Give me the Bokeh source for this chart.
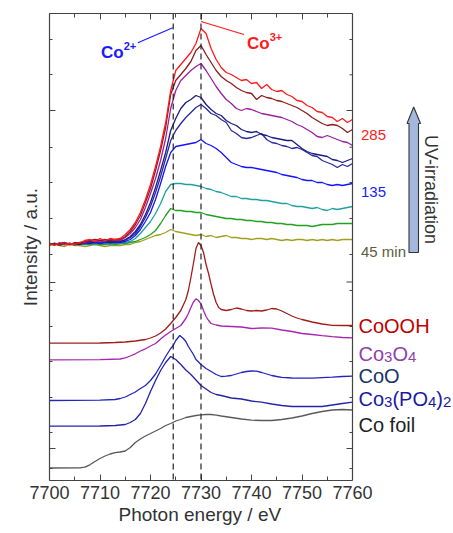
import math
from bokeh.plotting import figure
from bokeh.models import Range1d, LinearAxis, FixedTicker, CustomJSTickFormatter, Span, Title
from bokeh.embed import file_html
from bokeh.resources import INLINE
from bokeh.core.properties import value

FONT = "Liberation Sans"
AXIS_COLOR = "#444444"

# ---------------- data ----------------
energy_uv = list(range(7700, 7761))

uv_red = [237, 235, 238, 236, 237, 236, 238, 240, 241, 239, 242, 240, 242, 241,
          242, 246, 251, 258, 268, 281, 296, 314, 334, 358, 390, 410,
          416, 422, 428, 437, 452, 447, 432, 421, 413, 408,
          406, 403, 400, 401, 397, 398, 392, 396, 391, 389, 390, 386, 384, 380, 379, 375, 373,
          369, 368, 364, 363, 359, 362, 358, 361]
uv_brown = [236, 237, 235, 237, 236, 238, 237, 239, 240, 241, 240, 241, 240, 241,
            241, 244, 249, 256, 265, 278, 292, 310, 330, 353, 386, 400,
            406, 412, 419, 430, 435, 426, 418, 410, 404, 400,
            397, 393, 390, 388, 387, 381, 385, 383, 382, 380, 379, 377, 375, 373, 370, 367, 363,
            360, 357, 355, 356, 355, 352, 348, 351]
uv_purple = [236, 237, 236, 238, 236, 237, 238, 238, 240, 239, 240, 239, 241, 240,
             240, 243, 247, 253, 261, 273, 287, 302, 320, 342, 372, 390,
             400, 405, 410, 414, 417, 410, 402, 394, 387, 381,
             377, 372, 370, 372, 371, 369, 367, 366, 365, 364, 363, 361, 359, 356, 354, 351, 348,
             344, 343, 345, 343, 341, 339, 338, 335]
uv_navy1 = [237, 236, 237, 238, 236, 237, 236, 238, 239, 238, 240, 239, 238, 239,
            239, 241, 244, 249, 256, 266, 278, 293, 310, 328, 350, 362,
            372, 378, 381, 385, 383, 376, 371, 367, 365, 360,
            357, 355, 351, 349, 348, 349, 346, 345, 343, 342, 341, 340, 340, 336, 332, 329, 327,
            326, 325, 324, 321, 320, 318, 320, 322]
uv_navy2 = [236, 237, 236, 237, 237, 236, 237, 237, 238, 239, 238, 239, 239, 238,
            239, 240, 243, 247, 254, 263, 274, 288, 304, 322, 340, 350,
            357, 363, 368, 373, 376, 372, 367, 365, 361, 358,
            350, 347, 343, 342, 343, 345, 347, 341, 338, 337, 335, 334, 332, 333, 331, 328, 325,
            324, 320, 318, 316, 313, 316, 314, 317]
uv_blue = [237, 236, 237, 236, 237, 236, 237, 237, 237, 238, 237, 238, 238, 238,
           238, 239, 241, 245, 251, 259, 268, 281, 297, 314, 328, 334,
           335, 336, 337, 338, 341, 337, 335, 332, 328, 323,
           318, 316, 314, 313, 313, 312, 311, 310, 309, 308, 306, 305, 304, 303, 301, 300, 300,
           298, 298, 296, 295, 296, 295, 296, 297]
uv_teal = [236, 237, 236, 237, 236, 237, 237, 236, 237, 236, 237, 237, 236, 237,
           237, 238, 239, 242, 247, 253, 259, 267, 277, 289, 296, 297,
           297, 296, 296, 295, 294, 292, 291, 289, 288, 286,
           284, 284, 282, 282, 281, 281, 280, 280, 279, 278, 277, 277, 275, 274, 274, 273, 272,
           273, 271, 270, 272, 271, 272, 273, 274]
uv_green = [237, 236, 237, 236, 237, 236, 236, 237, 236, 237, 236, 236, 237, 236,
            237, 237, 238, 239, 241, 243, 246, 250, 257, 265, 272, 270,
            270, 269, 269, 268, 268, 266, 265, 264, 263, 262,
            262, 261, 261, 260, 260, 259, 259, 258, 258, 257, 257, 256, 256, 255, 255, 255, 254,
            255, 256, 256, 256, 257, 257, 257, 257]
uv_olive = [235, 236, 235, 234, 236, 235, 235, 234, 235, 236, 235, 234, 235, 235,
            235, 236, 236, 238, 239, 241, 243, 245, 246, 248, 251, 249,
            248, 247, 246, 245, 246, 244, 245, 243, 244, 245,
            243, 243, 242, 242, 241, 242, 242, 241, 242, 241, 240, 241, 240, 241, 241, 240, 241,
            240, 241, 240, 241, 240, 241, 241, 241]

coooh_e = [7700, 7705, 7710, 7713, 7715, 7717, 7719, 7720, 7721, 7722, 7723, 7724, 7725, 7726, 7727,
           7727.5, 7728, 7728.5, 7729, 7729.5, 7730, 7730.5, 7731, 7731.5, 7732, 7732.5, 7733, 7733.5,
           7734, 7735, 7736, 7737, 7738, 7739, 7740, 7741, 7742, 7743, 7744, 7745, 7746, 7747, 7748,
           7749, 7750, 7752, 7754, 7756, 7758, 7760]
coooh_y = [137.3, 137.3, 137.5, 138, 138.5, 139.5, 141, 142.5, 144.5, 147.5, 151.5, 157, 163, 170, 181,
           190, 203, 217, 232, 238, 235, 228, 216, 207, 196, 186, 178, 173,
           171, 170, 171, 172.5, 171.5, 170, 169.5, 170, 169.5, 170.5, 172, 171.5, 169.5, 167, 164.5,
           162.5, 161, 158.5, 156.5, 155.2, 155, 155]

co3o4_e = [7700, 7710, 7714, 7715, 7716, 7717, 7718, 7719, 7720, 7721, 7722, 7723, 7724, 7725, 7726,
           7727, 7727.5, 7728, 7728.5, 7729, 7729.5, 7730, 7730.5, 7731, 7731.5, 7732, 7733, 7734,
           7736, 7738, 7740, 7742, 7744, 7746, 7748, 7750, 7752, 7754, 7756, 7758, 7760]
co3o4_y = [120.7, 120.8, 121.5, 122.7, 124.5, 126.7, 129.5, 131.7, 134.5, 137, 141.5, 145.5, 149, 152,
           155, 162, 167, 173, 178.5, 181.7, 180, 176.7, 170, 164, 160, 157, 155.5, 154.5,
           154, 153.5, 152, 152.5, 152.3, 150.5, 149, 147, 146, 144.8, 143.8, 143, 142.7]

coo_e = [7700, 7710, 7713, 7714, 7715, 7716, 7717, 7718, 7719, 7720, 7721, 7722, 7723, 7724,
         7724.5, 7725, 7725.8, 7726.5, 7727, 7727.5, 7728, 7728.5, 7729,
         7730, 7731, 7732, 7733, 7734, 7735, 7736, 7737, 7738, 7739, 7740, 7741, 7742, 7743, 7744,
         7745, 7746, 7748, 7750, 7752, 7754, 7756, 7758, 7760]
coo_y = [80, 80.3, 81, 82, 83.5, 86, 88.5, 92, 95, 100, 106.5, 115, 124, 132,
         135, 140, 145, 142, 139, 134, 130, 126, 121,
         116, 112, 109, 106, 104, 104.3, 105, 106.5, 108, 109, 109.5, 109.3, 108, 106.5, 105,
         104, 103.2, 102.5, 102.3, 102.3, 102.8, 103.3, 104, 104.3]

copo4_e = [7700, 7710, 7713, 7714, 7715, 7716, 7717, 7718, 7719, 7720, 7721, 7722, 7723, 7724,
           7725, 7726, 7727, 7728, 7729, 7730, 7731, 7732, 7733, 7734,
           7736, 7738, 7740, 7742, 7744, 7746, 7748, 7750, 7752, 7754, 7756, 7758, 7760]
copo4_y = [54.3, 54.5, 55, 55.5, 56, 58, 61, 67, 77, 89, 100, 110, 118, 124,
           121, 116, 110.5, 106, 100.5, 95, 91.5, 88, 86, 85,
           82.5, 81.5, 79.5, 78.3, 76.5, 75, 74, 74, 74, 74, 75.5, 77, 78.3]

cofoil_e = [7700, 7706, 7707, 7708, 7709, 7710, 7711, 7712, 7713, 7714, 7715, 7716, 7717, 7718,
            7719, 7720, 7721, 7722, 7723, 7724, 7725, 7726, 7727, 7728, 7729, 7730, 7731, 7732,
            7733, 7734, 7736, 7738, 7740, 7742, 7744, 7746, 7748, 7750, 7752, 7754, 7756, 7758, 7760]
cofoil_y = [12.5, 12.7, 13.3, 15.7, 19, 22, 24.5, 26.5, 27.8, 28.5, 29.5, 33, 38, 41.5,
            44.5, 47, 49.5, 52, 55, 57, 59.5, 61, 63, 64, 65, 65.7, 66, 66,
            65.3, 64.5, 63, 61.5, 60.3, 60, 60, 61, 62.5, 64.5, 67, 69, 70.5, 71, 70.5]

x_major = [7700, 7710, 7720, 7730, 7740, 7750, 7760]
x_minor = [7705, 7715, 7725, 7735, 7745, 7755]
y_major = [370, 198.5, 32]
y_minor = [441, 405.7, 333.3, 298, 262, 226, 190, 154, 119, 83, 48, 12]

marker_energies = [7724.5, 7730]

# ---------------- geometry ----------------
FIG_W, FIG_H = 453, 533
LEFT, TOP, BOTTOM = 49, 13, 53
PX_PER_EV = 303 / 60.0
E_MIN, E_MAX = 7700, 7760
X_END = E_MIN + (FIG_W - LEFT) / PX_PER_EV


def px_to_e(px):
    return E_MIN + (px - LEFT) / PX_PER_EV


def pxw(w):
    return w / PX_PER_EV


p = figure(width=FIG_W, height=FIG_H, x_range=Range1d(E_MIN, X_END), y_range=Range1d(0, 467),
           output_backend="svg", toolbar_location=None,
           min_border_left=LEFT, min_border_right=0, min_border_top=TOP, min_border_bottom=BOTTOM)
p.grid.visible = False
p.outline_line_color = None


def style_axis(ax, labels):
    ax.axis_line_color = AXIS_COLOR
    ax.axis_line_width = 1.2
    ax.major_tick_line_color = AXIS_COLOR
    ax.minor_tick_line_color = AXIS_COLOR
    ax.major_tick_in = 6
    ax.major_tick_out = 0
    ax.minor_tick_in = 4
    ax.minor_tick_out = 0
    if not labels:
        ax.formatter = CustomJSTickFormatter(code="return '';")
        ax.major_label_standoff = 0


xb = p.xaxis[0]
xb.ticker = FixedTicker(ticks=x_major, minor_ticks=x_minor)
xb.bounds = (E_MIN, E_MAX)
style_axis(xb, True)
xb.major_label_text_font = FONT
xb.major_label_text_font_size = "18px"
xb.major_label_text_color = "#333333"

yl = p.yaxis[0]
yl.ticker = FixedTicker(ticks=y_major, minor_ticks=y_minor)
style_axis(yl, False)
yl.minor_tick_in = 3

xt = LinearAxis(ticker=FixedTicker(ticks=x_major, minor_ticks=x_minor), bounds=(E_MIN, E_MAX))
style_axis(xt, False)
p.add_layout(xt, "above")

p.add_layout(Title(text="Photon energy / eV", align="left", offset=69, text_font=FONT,
                   text_font_size="19px", text_font_style="normal", text_color="#333333",
                   standoff=0), "below")
p.add_layout(Title(text="Intensity / a.u.", align="center", offset=11, text_font=FONT,
                   text_font_size="19px", text_font_style="normal", text_color="#333333",
                   standoff=18), "left")

# right spine of the data frame at E_MAX, with inward ticks
p.add_layout(Span(location=E_MAX, dimension="height", line_color=AXIS_COLOR, line_width=1.2))
p.segment(x0=[E_MAX] * len(y_major), y0=y_major, x1=[E_MAX - pxw(6)] * len(y_major), y1=y_major,
          line_color=AXIS_COLOR, line_width=1)
p.segment(x0=[E_MAX] * len(y_minor), y0=y_minor, x1=[E_MAX - pxw(3)] * len(y_minor), y1=y_minor,
          line_color=AXIS_COLOR, line_width=1)

for e in marker_energies:
    p.add_layout(Span(location=e, dimension="height", line_color="#222222",
                      line_width=1.2, line_dash="6 4"))

# reference spectra
refs = [(coooh_e, coooh_y, "#a01c1c"), (co3o4_e, co3o4_y, "#a825b0"),
        (coo_e, coo_y, "#2424c0"), (copo4_e, copo4_y, "#2424a8"),
        (cofoil_e, cofoil_y, "#5a5a5a")]
for ex, ey, c in refs:
    p.line(ex, ey, line_color=c, line_width=1.3)

# UV series (bottom first, red last)
uv_series = [(uv_olive, "#a0a020"), (uv_green, "#22a022"), (uv_teal, "#20a0a0"),
             (uv_blue, "#1414ff"), (uv_navy2, "#2a2aa0"), (uv_navy1, "#1c1c80"),
             (uv_purple, "#9a20a0"), (uv_brown, "#8b1c1c"), (uv_red, "#ff1a1a")]
for ys, c in uv_series:
    p.line(energy_uv, ys, line_color=c, line_width=1.3)

# Co2+ / Co3+ annotations
BOLD_W = {"C": 0.722, "o": 0.611}
CO_SIZE, SUP_SIZE = 17, 11
for (tx, ty, sup, col) in [(px_to_e(100.5), 428.5, "2+", "#1a1aff"),
                           (px_to_e(246.5), 437.0, "3+", "#ff1a1a")]:
    p.text(x=[tx], y=[ty], text=["Co"], text_font=value(FONT), text_font_style="bold",
           text_font_size=value(f"{CO_SIZE}px"), text_color=col, text_baseline="alphabetic")
    w = pxw((BOLD_W["C"] + BOLD_W["o"]) * CO_SIZE)
    p.text(x=[tx + w], y=[ty + 6.5], text=[sup], text_font=value(FONT), text_font_style="bold",
           text_font_size=value(f"{SUP_SIZE}px"), text_color=col, text_baseline="alphabetic")

co2_ptr_x = [7717.5, 7724.4]
co2_ptr_y = [437.7, 452.7]
co3_ptr_x = [7730.0, 7738.5]
co3_ptr_y = [459.0, 446.0]
p.line(co2_ptr_x, co2_ptr_y, line_color="#1a1aff", line_width=1.2)
p.line(co3_ptr_x, co3_ptr_y, line_color="#ff1a1a", line_width=1.2)

# ---------------- right-hand labels ----------------
time_labels = ["285", "135", "45 min"]
time_label_y = [346, 288.3, 229.3]
time_label_colors = ["#ff1a1a", "#1a1aff", "#5c5c3d"]
p.text(x=[px_to_e(360.5)] * 3, y=time_label_y, text=time_labels, text_color=time_label_colors,
       text_font=value(FONT), text_font_size=value("15px"), text_baseline="alphabetic")

ARIAL_W = {"C": 0.722, "o": 0.556, "O": 0.778, "H": 0.722, "P": 0.667, "(": 0.333, ")": 0.333,
           " ": 0.278, "f": 0.278, "i": 0.222, "l": 0.222}
for d in "0123456789":
    ARIAL_W[d] = 0.556

MAIN_SIZE, SUB_SIZE = 20, 15
ref_labels = [
    ([("CoOOH", False)], 155, "#c00000"),
    ([("Co", False), ("3", True), ("O", False), ("4", True)], 127, "#9040b0"),
    ([("CoO", False)], 105, "#173565"),
    ([("Co", False), ("3", True), ("(PO", False), ("4", True), (")", False), ("2", True)], 82, "#1a1a9e"),
    ([("Co foil", False)], 56, "#222222"),
]
for pieces, ybase, col in ref_labels:
    xcur = 358.0
    for txt, sub in pieces:
        size = SUB_SIZE if sub else MAIN_SIZE
        p.text(x=[px_to_e(xcur)], y=[ybase - 3 if sub else ybase], text=[txt], text_color=col,
               text_font=value(FONT), text_font_size=value(f"{size}px"), text_baseline="alphabetic")
        xcur += sum(ARIAL_W[ch] for ch in txt) * size

# UV-irradiation arrow (page-pixel geometry; y measured up from frame bottom)
arrow_px = [408.5, 408.5, 406.5, 413.2, 420.0, 418.0, 418.0]
arrow_py = [252, 123, 123, 106.5, 123, 123, 252]
p.patch([px_to_e(v) for v in arrow_px], [480 - v for v in arrow_py],
        fill_color="#a3b8dc", line_color="#333333", line_width=1.1)
p.text(x=[px_to_e(430)], y=[480 - 189], text=["UV-irradiation"], angle=-math.pi / 2,
       text_align="center", text_baseline="middle", text_color="#333333",
       text_font=value(FONT), text_font_size=value("18px"))

open("out.html", "w").write(file_html(p, INLINE))
